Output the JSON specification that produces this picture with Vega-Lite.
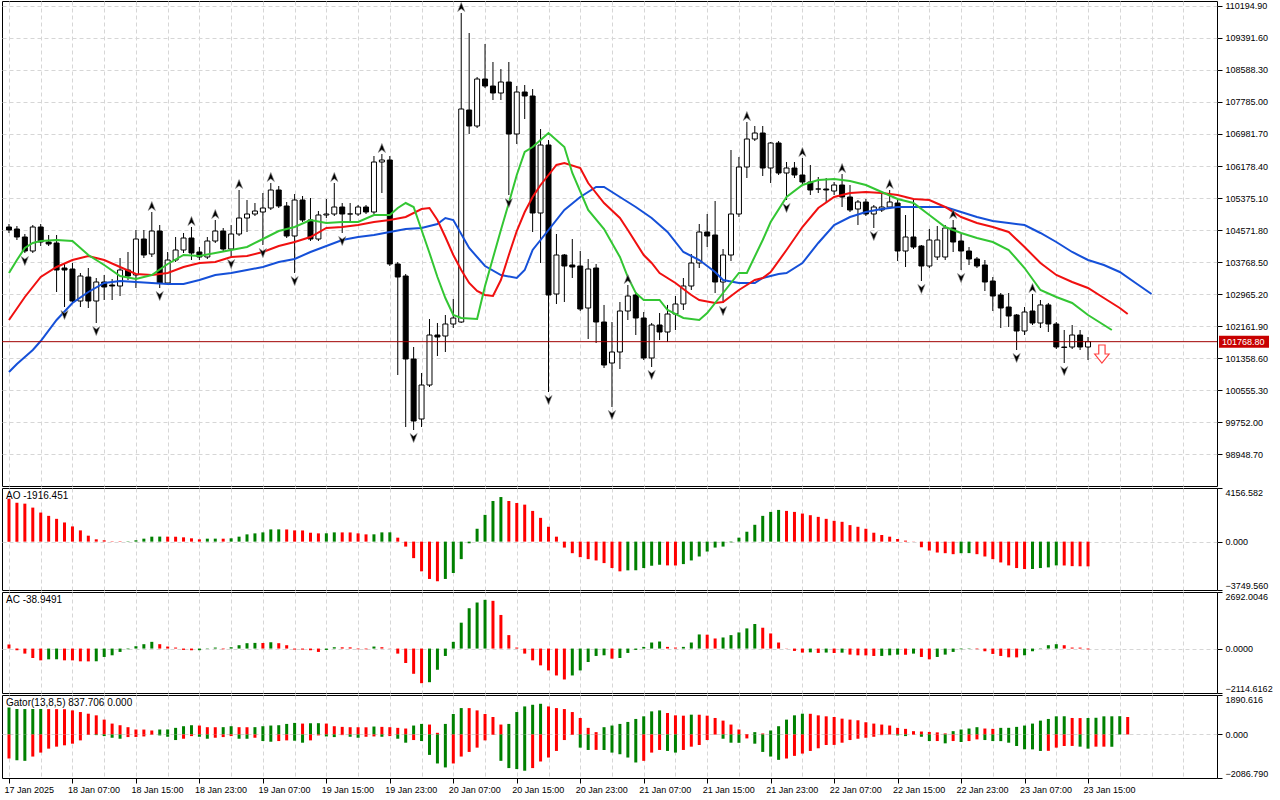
{
  "$schema": "https://vega.github.io/schema/vega-lite/v6.json",
  "background": "#ffffff",
  "padding": {"left": 1, "top": 0, "right": 0, "bottom": 0},
  "spacing": 2,
  "bounds": "flush",
  "resolve": {"scale": {"color": "independent"}},
  "config": {
    "view": {"stroke": "#000000", "strokeWidth": 1},
    "font": "Liberation Sans",
    "axis": {
      "labelFont": "Liberation Sans",
      "labelFontSize": 9,
      "labelColor": "#000000",
      "tickColor": "#000000",
      "gridColor": "#d6d6d6",
      "gridDash": [4, 3],
      "gridWidth": 1,
      "domain": false,
      "labelOverlap": false,
      "title": null
    }
  },
  "datasets": {
    "candles": [
      {"t":"2025-01-17T23:00","o":104647.3,"h":104722.6,"l":104496.7,"c":104572},
      {"t":"2025-01-18T00:00","o":104597.1,"h":104672.4,"l":104321,"c":104396.3},
      {"t":"2025-01-18T01:00","o":104396.3,"h":104471.6,"l":103994.7,"c":104044.9},
      {"t":"2025-01-18T02:00","o":104044.9,"h":104697.5,"l":103994.7,"c":104647.3},
      {"t":"2025-01-18T03:00","o":104647.3,"h":104722.6,"l":104170.4,"c":104270.8},
      {"t":"2025-01-18T04:00","o":104270.8,"h":104446.5,"l":104170.4,"c":104220.6},
      {"t":"2025-01-18T05:00","o":104245.7,"h":104446.5,"l":103015.8,"c":103568},
      {"t":"2025-01-18T06:00","o":103618.2,"h":103743.7,"l":102639.3,"c":103568},
      {"t":"2025-01-18T07:00","o":103593.1,"h":103743.7,"l":102739.7,"c":102789.9},
      {"t":"2025-01-18T08:00","o":102789.9,"h":103492.7,"l":102639.3,"c":103417.4},
      {"t":"2025-01-18T09:00","o":103392.3,"h":103618.2,"l":102614.2,"c":102789.9},
      {"t":"2025-01-18T10:00","o":102789.9,"h":103367.2,"l":102237.7,"c":103266.8},
      {"t":"2025-01-18T11:00","o":103266.8,"h":103442.5,"l":102815,"c":103141.3},
      {"t":"2025-01-18T12:00","o":103191.5,"h":103342.1,"l":102815,"c":103166.4},
      {"t":"2025-01-18T13:00","o":103166.4,"h":103869.2,"l":102915.4,"c":103568},
      {"t":"2025-01-18T14:00","o":103568,"h":104019.8,"l":103317,"c":103417.4},
      {"t":"2025-01-18T15:00","o":103442.5,"h":104572,"l":103116.2,"c":104346.1},
      {"t":"2025-01-18T16:00","o":104346.1,"h":104572,"l":103869.2,"c":103944.5},
      {"t":"2025-01-18T17:00","o":103969.6,"h":105023.8,"l":103894.3,"c":104546.9},
      {"t":"2025-01-18T18:00","o":104546.9,"h":104697.5,"l":103116.2,"c":103241.7},
      {"t":"2025-01-18T19:00","o":103241.7,"h":104019.8,"l":103191.5,"c":103819},
      {"t":"2025-01-18T20:00","o":103819,"h":104396.3,"l":103768.8,"c":104070},
      {"t":"2025-01-18T21:00","o":104070,"h":104496.7,"l":103994.7,"c":104371.2},
      {"t":"2025-01-18T22:00","o":104371.2,"h":104647.3,"l":103819,"c":103994.7},
      {"t":"2025-01-18T23:00","o":104019.8,"h":104145.3,"l":103819,"c":103894.3},
      {"t":"2025-01-19T00:00","o":103894.3,"h":104396.3,"l":103844.1,"c":104295.9},
      {"t":"2025-01-19T01:00","o":104295.9,"h":104823,"l":104245.7,"c":104546.9},
      {"t":"2025-01-19T02:00","o":104546.9,"h":104622.2,"l":104019.8,"c":104095.1},
      {"t":"2025-01-19T03:00","o":104095.1,"h":104697.5,"l":103919.4,"c":104471.6},
      {"t":"2025-01-19T04:00","o":104471.6,"h":105576,"l":104421.4,"c":104873.2},
      {"t":"2025-01-19T05:00","o":104873.2,"h":105325,"l":104521.8,"c":104973.6},
      {"t":"2025-01-19T06:00","o":104973.6,"h":105249.7,"l":104923.4,"c":105048.9},
      {"t":"2025-01-19T07:00","o":105023.8,"h":105500.7,"l":104195.5,"c":105124.2},
      {"t":"2025-01-19T08:00","o":105124.2,"h":105751.7,"l":105074,"c":105576},
      {"t":"2025-01-19T09:00","o":105576,"h":105676.4,"l":105124.2,"c":105174.4},
      {"t":"2025-01-19T10:00","o":105174.4,"h":105274.8,"l":104371.2,"c":104421.4},
      {"t":"2025-01-19T11:00","o":104421.4,"h":105475.6,"l":103492.7,"c":105325},
      {"t":"2025-01-19T12:00","o":105325,"h":105425.4,"l":104772.8,"c":104823},
      {"t":"2025-01-19T13:00","o":104823,"h":105375.2,"l":104295.9,"c":104346.1},
      {"t":"2025-01-19T14:00","o":104346.1,"h":105048.9,"l":104295.9,"c":104948.5},
      {"t":"2025-01-19T15:00","o":104948.5,"h":105350.1,"l":104873.2,"c":104973.6},
      {"t":"2025-01-19T16:00","o":104973.6,"h":105751.7,"l":104923.4,"c":105149.3},
      {"t":"2025-01-19T17:00","o":105149.3,"h":105249.7,"l":104496.7,"c":104973.6},
      {"t":"2025-01-19T18:00","o":104973.6,"h":105249.7,"l":104747.7,"c":104975},
      {"t":"2025-01-19T19:00","o":104973.6,"h":105199.5,"l":104923.4,"c":105149.3},
      {"t":"2025-01-19T20:00","o":105149.3,"h":105199.5,"l":104973.6,"c":105023.8},
      {"t":"2025-01-19T21:00","o":105023.8,"h":106429.4,"l":104973.6,"c":106278.8},
      {"t":"2025-01-19T22:00","o":106278.8,"h":106479.6,"l":105500.7,"c":106329},
      {"t":"2025-01-19T23:00","o":106329,"h":106429.4,"l":103668.4,"c":103718.6},
      {"t":"2025-01-20T00:00","o":103718.6,"h":103768.8,"l":100932.5,"c":103392.3},
      {"t":"2025-01-20T01:00","o":103417.4,"h":103467.6,"l":99627.3,"c":101334.1},
      {"t":"2025-01-20T02:00","o":101334.1,"h":101635.3,"l":99552,"c":99777.9},
      {"t":"2025-01-20T03:00","o":99828.1,"h":100982.7,"l":99627.3,"c":100681.5},
      {"t":"2025-01-20T04:00","o":100681.5,"h":102338.1,"l":100631.3,"c":101936.5},
      {"t":"2025-01-20T05:00","o":101936.5,"h":102237.7,"l":101409.4,"c":101886.3},
      {"t":"2025-01-20T06:00","o":101911.4,"h":102438.5,"l":101509.8,"c":102212.6},
      {"t":"2025-01-20T07:00","o":102212.6,"h":102840.1,"l":102112.2,"c":102363.2},
      {"t":"2025-01-20T08:00","o":102262.8,"h":110018.7,"l":102237.7,"c":107609.1},
      {"t":"2025-01-20T09:00","o":107584,"h":109516.7,"l":106981.6,"c":107182.4},
      {"t":"2025-01-20T10:00","o":107182.4,"h":108412.3,"l":107132.2,"c":108362.1},
      {"t":"2025-01-20T11:00","o":108362.1,"h":109240.6,"l":108136.2,"c":108186.4},
      {"t":"2025-01-20T12:00","o":108186.4,"h":108788.8,"l":107835,"c":108010.7},
      {"t":"2025-01-20T13:00","o":108010.7,"h":108613.1,"l":107835,"c":108286.8},
      {"t":"2025-01-20T14:00","o":108286.8,"h":108788.8,"l":105450.5,"c":106981.6},
      {"t":"2025-01-20T15:00","o":106981.6,"h":108186.4,"l":106730.6,"c":108035.8},
      {"t":"2025-01-20T16:00","o":108035.8,"h":108211.5,"l":107358.1,"c":107935.4},
      {"t":"2025-01-20T17:00","o":107935.4,"h":108110.1,"l":104521.8,"c":104998.7},
      {"t":"2025-01-20T18:00","o":104998.7,"h":107107.1,"l":103743.7,"c":106705.5},
      {"t":"2025-01-20T19:00","o":106705.5,"h":106831,"l":100505.8,"c":102940.5},
      {"t":"2025-01-20T20:00","o":102965.6,"h":104471.6,"l":102714.6,"c":103944.5},
      {"t":"2025-01-20T21:00","o":103944.5,"h":103969.6,"l":102764.8,"c":103668.4},
      {"t":"2025-01-20T22:00","o":103693.5,"h":104346.1,"l":103367.2,"c":103643.3},
      {"t":"2025-01-20T23:00","o":103668.4,"h":104044.9,"l":102538.9,"c":102589.1},
      {"t":"2025-01-21T00:00","o":102614.2,"h":103844.1,"l":101836.1,"c":103593.1},
      {"t":"2025-01-21T01:00","o":103618.2,"h":103718.6,"l":101735.7,"c":102262.8},
      {"t":"2025-01-21T02:00","o":102262.8,"h":102690.5,"l":101108.2,"c":101183.5},
      {"t":"2025-01-21T03:00","o":101233.7,"h":102262.8,"l":100129.3,"c":101509.8},
      {"t":"2025-01-21T04:00","o":101509.8,"h":102764.8,"l":101083.1,"c":102538.9},
      {"t":"2025-01-21T05:00","o":102538.9,"h":103191.5,"l":102313,"c":102915.4},
      {"t":"2025-01-21T06:00","o":102940.5,"h":103015.8,"l":101936.5,"c":102363.2},
      {"t":"2025-01-21T07:00","o":102363.2,"h":102513.8,"l":101309,"c":101359.2},
      {"t":"2025-01-21T08:00","o":101359.2,"h":102237.7,"l":101133.3,"c":102187.5},
      {"t":"2025-01-21T09:00","o":102187.5,"h":102488.7,"l":101811,"c":102011.8},
      {"t":"2025-01-21T10:00","o":102011.8,"h":102690.5,"l":101760.8,"c":102463.6},
      {"t":"2025-01-21T11:00","o":102463.6,"h":102915.4,"l":102062,"c":102714.6},
      {"t":"2025-01-21T12:00","o":102714.6,"h":103367.2,"l":102564,"c":103166.4},
      {"t":"2025-01-21T13:00","o":103166.4,"h":103969.6,"l":103066,"c":103743.7},
      {"t":"2025-01-21T14:00","o":103743.7,"h":104722.6,"l":103618.2,"c":104521.8},
      {"t":"2025-01-21T15:00","o":104521.8,"h":104973.6,"l":104145.3,"c":104421.4},
      {"t":"2025-01-21T16:00","o":104446.5,"h":105299.9,"l":102990.7,"c":103266.8},
      {"t":"2025-01-21T17:00","o":103266.8,"h":104095.1,"l":102739.7,"c":103944.5},
      {"t":"2025-01-21T18:00","o":103944.5,"h":106580,"l":103793.9,"c":104973.6},
      {"t":"2025-01-21T19:00","o":104973.6,"h":106404.3,"l":104898.3,"c":106153.3},
      {"t":"2025-01-21T20:00","o":106153.3,"h":107282.8,"l":105877.2,"c":106856.1},
      {"t":"2025-01-21T21:00","o":106856.1,"h":107182.4,"l":106805.9,"c":107006.7},
      {"t":"2025-01-21T22:00","o":107006.7,"h":107182.4,"l":105927.4,"c":106128.2},
      {"t":"2025-01-21T23:00","o":106128.2,"h":106780.8,"l":105751.7,"c":106755.7},
      {"t":"2025-01-22T00:00","o":106755.7,"h":106805.9,"l":105952.5,"c":106002.7},
      {"t":"2025-01-22T01:00","o":106002.7,"h":106278.8,"l":105325,"c":106128.2},
      {"t":"2025-01-22T02:00","o":106128.2,"h":106278.8,"l":105877.2,"c":105952.5},
      {"t":"2025-01-22T03:00","o":105952.5,"h":106379.2,"l":105726.6,"c":105776.8},
      {"t":"2025-01-22T04:00","o":105776.8,"h":106203.5,"l":105450.5,"c":105576},
      {"t":"2025-01-22T05:00","o":105601.1,"h":105902.3,"l":105500.7,"c":105601},
      {"t":"2025-01-22T06:00","o":105601.1,"h":105877.2,"l":105249.7,"c":105576},
      {"t":"2025-01-22T07:00","o":105550.9,"h":105776.8,"l":105450.5,"c":105701.5},
      {"t":"2025-01-22T08:00","o":105701.5,"h":105977.6,"l":105149.3,"c":105400.3},
      {"t":"2025-01-22T09:00","o":105400.3,"h":105701.5,"l":105023.8,"c":105074},
      {"t":"2025-01-22T10:00","o":105099.1,"h":105325,"l":104697.5,"c":105274.8},
      {"t":"2025-01-22T11:00","o":105274.8,"h":105350.1,"l":104923.4,"c":104973.6},
      {"t":"2025-01-22T12:00","o":104973.6,"h":105199.5,"l":104622.2,"c":105149.3},
      {"t":"2025-01-22T13:00","o":105074,"h":105500.7,"l":105023.8,"c":105149.3},
      {"t":"2025-01-22T14:00","o":105149.3,"h":105576,"l":105099.1,"c":105274.8},
      {"t":"2025-01-22T15:00","o":105249.7,"h":105325,"l":103793.9,"c":104044.9},
      {"t":"2025-01-22T16:00","o":104044.9,"h":104948.5,"l":103643.3,"c":104396.3},
      {"t":"2025-01-22T17:00","o":104396.3,"h":105325,"l":104095.1,"c":104145.3},
      {"t":"2025-01-22T18:00","o":104170.4,"h":104195.5,"l":103291.9,"c":103668.4},
      {"t":"2025-01-22T19:00","o":103668.4,"h":104597.1,"l":103618.2,"c":104321},
      {"t":"2025-01-22T20:00","o":103894.3,"h":104672.4,"l":103819,"c":104321},
      {"t":"2025-01-22T21:00","o":103894.3,"h":104697.5,"l":103819,"c":104622.2},
      {"t":"2025-01-22T22:00","o":104622.2,"h":104823,"l":104019.8,"c":104270.8},
      {"t":"2025-01-22T23:00","o":104295.9,"h":104471.6,"l":103568,"c":104044.9},
      {"t":"2025-01-23T00:00","o":104044.9,"h":104145.3,"l":103693.5,"c":103844.1},
      {"t":"2025-01-23T01:00","o":103844.1,"h":103894.3,"l":103618.2,"c":103668.4},
      {"t":"2025-01-23T02:00","o":103693.5,"h":103819,"l":103040.9,"c":103266.8},
      {"t":"2025-01-23T03:00","o":103291.9,"h":103392.3,"l":102538.9,"c":102915.4},
      {"t":"2025-01-23T04:00","o":102940.5,"h":102990.7,"l":102112.2,"c":102614.2},
      {"t":"2025-01-23T05:00","o":102639.3,"h":102990.7,"l":102137.3,"c":102413.4},
      {"t":"2025-01-23T06:00","o":102438.5,"h":102463.6,"l":101560,"c":102036.9},
      {"t":"2025-01-23T07:00","o":102036.9,"h":102639.3,"l":101936.5,"c":102513.8},
      {"t":"2025-01-23T08:00","o":102538.9,"h":102965.6,"l":102187.5,"c":102237.7},
      {"t":"2025-01-23T09:00","o":102237.7,"h":102815,"l":102112.2,"c":102690.5},
      {"t":"2025-01-23T10:00","o":102690.5,"h":102740.7,"l":102011.8,"c":102212.6},
      {"t":"2025-01-23T11:00","o":102212.6,"h":102262.8,"l":101585.1,"c":101635.3},
      {"t":"2025-01-23T12:00","o":101635.3,"h":102062,"l":101233.7,"c":101622.8},
      {"t":"2025-01-23T13:00","o":101635.3,"h":102187.5,"l":101585.1,"c":101936.5},
      {"t":"2025-01-23T14:00","o":101936.5,"h":102062,"l":101560,"c":101635.3},
      {"t":"2025-01-23T15:00","o":101635.3,"h":101886.3,"l":101309,"c":101768.8}
    ],
    "alligator": [
      {"t":"2025-01-17T23:00","line":"jaw","v":101007.8},
      {"t":"2025-01-18T00:00","line":"jaw","v":101208.6},
      {"t":"2025-01-18T01:00","line":"jaw","v":101383.3},
      {"t":"2025-01-18T02:00","line":"jaw","v":101560},
      {"t":"2025-01-18T03:00","line":"jaw","v":101785.9},
      {"t":"2025-01-18T05:00","line":"jaw","v":102313},
      {"t":"2025-01-18T07:00","line":"jaw","v":102739.7},
      {"t":"2025-01-18T09:00","line":"jaw","v":103015.8},
      {"t":"2025-01-18T11:00","line":"jaw","v":103241.7},
      {"t":"2025-01-18T13:00","line":"jaw","v":103291.9},
      {"t":"2025-01-18T15:00","line":"jaw","v":103266.8},
      {"t":"2025-01-18T17:00","line":"jaw","v":103241.7},
      {"t":"2025-01-18T19:00","line":"jaw","v":103216.6},
      {"t":"2025-01-18T21:00","line":"jaw","v":103216.6},
      {"t":"2025-01-18T23:00","line":"jaw","v":103317},
      {"t":"2025-01-19T01:00","line":"jaw","v":103442.5},
      {"t":"2025-01-19T03:00","line":"jaw","v":103492.7},
      {"t":"2025-01-19T05:00","line":"jaw","v":103568},
      {"t":"2025-01-19T07:00","line":"jaw","v":103643.3},
      {"t":"2025-01-19T09:00","line":"jaw","v":103768.8},
      {"t":"2025-01-19T11:00","line":"jaw","v":103844.1},
      {"t":"2025-01-19T13:00","line":"jaw","v":104019.8},
      {"t":"2025-01-19T15:00","line":"jaw","v":104170.4},
      {"t":"2025-01-19T17:00","line":"jaw","v":104321},
      {"t":"2025-01-19T19:00","line":"jaw","v":104396.3},
      {"t":"2025-01-19T21:00","line":"jaw","v":104446.5},
      {"t":"2025-01-19T23:00","line":"jaw","v":104521.8},
      {"t":"2025-01-20T01:00","line":"jaw","v":104597.1},
      {"t":"2025-01-20T03:00","line":"jaw","v":104622.2},
      {"t":"2025-01-20T05:00","line":"jaw","v":104722.6},
      {"t":"2025-01-20T06:00","line":"jaw","v":104873.2},
      {"t":"2025-01-20T07:00","line":"jaw","v":104823},
      {"t":"2025-01-20T09:00","line":"jaw","v":104120.2},
      {"t":"2025-01-20T11:00","line":"jaw","v":103668.4},
      {"t":"2025-01-20T13:00","line":"jaw","v":103442.5},
      {"t":"2025-01-20T15:00","line":"jaw","v":103367.2},
      {"t":"2025-01-20T16:00","line":"jaw","v":103568},
      {"t":"2025-01-20T17:00","line":"jaw","v":104070},
      {"t":"2025-01-20T19:00","line":"jaw","v":104572},
      {"t":"2025-01-20T21:00","line":"jaw","v":105074},
      {"t":"2025-01-20T23:00","line":"jaw","v":105400.3},
      {"t":"2025-01-21T01:00","line":"jaw","v":105651.3},
      {"t":"2025-01-21T02:00","line":"jaw","v":105651.3},
      {"t":"2025-01-21T04:00","line":"jaw","v":105400.3},
      {"t":"2025-01-21T06:00","line":"jaw","v":105149.3},
      {"t":"2025-01-21T08:00","line":"jaw","v":104873.2},
      {"t":"2025-01-21T10:00","line":"jaw","v":104521.8},
      {"t":"2025-01-21T12:00","line":"jaw","v":104019.8},
      {"t":"2025-01-21T14:00","line":"jaw","v":103819},
      {"t":"2025-01-21T16:00","line":"jaw","v":103517.8},
      {"t":"2025-01-21T17:00","line":"jaw","v":103317},
      {"t":"2025-01-21T19:00","line":"jaw","v":103241.7},
      {"t":"2025-01-21T21:00","line":"jaw","v":103241.7},
      {"t":"2025-01-21T22:00","line":"jaw","v":103367.2},
      {"t":"2025-01-22T00:00","line":"jaw","v":103467.6},
      {"t":"2025-01-22T01:00","line":"jaw","v":103492.7},
      {"t":"2025-01-22T03:00","line":"jaw","v":103743.7},
      {"t":"2025-01-22T05:00","line":"jaw","v":104245.7},
      {"t":"2025-01-22T07:00","line":"jaw","v":104697.5},
      {"t":"2025-01-22T09:00","line":"jaw","v":104898.3},
      {"t":"2025-01-22T11:00","line":"jaw","v":105023.8},
      {"t":"2025-01-22T13:00","line":"jaw","v":105099.1},
      {"t":"2025-01-22T15:00","line":"jaw","v":105149.3},
      {"t":"2025-01-22T17:00","line":"jaw","v":105149.3},
      {"t":"2025-01-22T19:00","line":"jaw","v":105149.3},
      {"t":"2025-01-22T21:00","line":"jaw","v":105149.3},
      {"t":"2025-01-22T23:00","line":"jaw","v":105023.8},
      {"t":"2025-01-23T01:00","line":"jaw","v":104898.3},
      {"t":"2025-01-23T03:00","line":"jaw","v":104797.9},
      {"t":"2025-01-23T05:00","line":"jaw","v":104747.7},
      {"t":"2025-01-23T07:00","line":"jaw","v":104697.5},
      {"t":"2025-01-23T09:00","line":"jaw","v":104496.7},
      {"t":"2025-01-23T11:00","line":"jaw","v":104270.8},
      {"t":"2025-01-23T13:00","line":"jaw","v":104019.8},
      {"t":"2025-01-23T15:00","line":"jaw","v":103819},
      {"t":"2025-01-23T17:00","line":"jaw","v":103693.5},
      {"t":"2025-01-23T19:00","line":"jaw","v":103517.8},
      {"t":"2025-01-23T21:00","line":"jaw","v":103241.7},
      {"t":"2025-01-23T23:00","line":"jaw","v":102965.6},
      {"t":"2025-01-17T23:00","line":"teeth","v":102313},
      {"t":"2025-01-18T01:00","line":"teeth","v":102890.3},
      {"t":"2025-01-18T03:00","line":"teeth","v":103392.3},
      {"t":"2025-01-18T05:00","line":"teeth","v":103643.3},
      {"t":"2025-01-18T07:00","line":"teeth","v":103819},
      {"t":"2025-01-18T09:00","line":"teeth","v":103919.4},
      {"t":"2025-01-18T11:00","line":"teeth","v":103819},
      {"t":"2025-01-18T13:00","line":"teeth","v":103643.3},
      {"t":"2025-01-18T15:00","line":"teeth","v":103467.6},
      {"t":"2025-01-18T17:00","line":"teeth","v":103442.5},
      {"t":"2025-01-18T19:00","line":"teeth","v":103492.7},
      {"t":"2025-01-18T21:00","line":"teeth","v":103643.3},
      {"t":"2025-01-18T23:00","line":"teeth","v":103743.7},
      {"t":"2025-01-19T01:00","line":"teeth","v":103768.8},
      {"t":"2025-01-19T03:00","line":"teeth","v":103894.3},
      {"t":"2025-01-19T05:00","line":"teeth","v":103919.4},
      {"t":"2025-01-19T07:00","line":"teeth","v":104019.8},
      {"t":"2025-01-19T09:00","line":"teeth","v":104170.4},
      {"t":"2025-01-19T11:00","line":"teeth","v":104270.8},
      {"t":"2025-01-19T13:00","line":"teeth","v":104396.3},
      {"t":"2025-01-19T15:00","line":"teeth","v":104622.2},
      {"t":"2025-01-19T17:00","line":"teeth","v":104647.3},
      {"t":"2025-01-19T19:00","line":"teeth","v":104697.5},
      {"t":"2025-01-19T21:00","line":"teeth","v":104772.8},
      {"t":"2025-01-19T23:00","line":"teeth","v":104823},
      {"t":"2025-01-20T01:00","line":"teeth","v":104898.3},
      {"t":"2025-01-20T03:00","line":"teeth","v":105099.1},
      {"t":"2025-01-20T04:00","line":"teeth","v":105124.2},
      {"t":"2025-01-20T05:00","line":"teeth","v":104823},
      {"t":"2025-01-20T06:00","line":"teeth","v":104396.3},
      {"t":"2025-01-20T07:00","line":"teeth","v":103944.5},
      {"t":"2025-01-20T08:00","line":"teeth","v":103568},
      {"t":"2025-01-20T09:00","line":"teeth","v":103241.7},
      {"t":"2025-01-20T10:00","line":"teeth","v":103040.9},
      {"t":"2025-01-20T11:00","line":"teeth","v":102940.5},
      {"t":"2025-01-20T12:00","line":"teeth","v":102915.4},
      {"t":"2025-01-20T13:00","line":"teeth","v":103317},
      {"t":"2025-01-20T14:00","line":"teeth","v":103944.5},
      {"t":"2025-01-20T15:00","line":"teeth","v":104546.9},
      {"t":"2025-01-20T16:00","line":"teeth","v":105023.8},
      {"t":"2025-01-20T17:00","line":"teeth","v":105400.3},
      {"t":"2025-01-20T18:00","line":"teeth","v":105701.5},
      {"t":"2025-01-20T19:00","line":"teeth","v":105952.5},
      {"t":"2025-01-20T20:00","line":"teeth","v":106203.5},
      {"t":"2025-01-20T21:00","line":"teeth","v":106253.7},
      {"t":"2025-01-20T23:00","line":"teeth","v":106128.2},
      {"t":"2025-01-21T00:00","line":"teeth","v":105751.7},
      {"t":"2025-01-21T02:00","line":"teeth","v":105249.7},
      {"t":"2025-01-21T04:00","line":"teeth","v":104873.2},
      {"t":"2025-01-21T05:00","line":"teeth","v":104572},
      {"t":"2025-01-21T07:00","line":"teeth","v":103944.5},
      {"t":"2025-01-21T08:00","line":"teeth","v":103743.7},
      {"t":"2025-01-21T09:00","line":"teeth","v":103492.7},
      {"t":"2025-01-21T11:00","line":"teeth","v":103241.7},
      {"t":"2025-01-21T13:00","line":"teeth","v":102940.5},
      {"t":"2025-01-21T14:00","line":"teeth","v":102815},
      {"t":"2025-01-21T16:00","line":"teeth","v":102739.7},
      {"t":"2025-01-21T17:00","line":"teeth","v":102764.8},
      {"t":"2025-01-21T19:00","line":"teeth","v":103066},
      {"t":"2025-01-21T20:00","line":"teeth","v":103191.5},
      {"t":"2025-01-21T21:00","line":"teeth","v":103317},
      {"t":"2025-01-21T22:00","line":"teeth","v":103367.2},
      {"t":"2025-01-21T23:00","line":"teeth","v":103517.8},
      {"t":"2025-01-22T01:00","line":"teeth","v":104070},
      {"t":"2025-01-22T03:00","line":"teeth","v":104647.3},
      {"t":"2025-01-22T05:00","line":"teeth","v":105124.2},
      {"t":"2025-01-22T07:00","line":"teeth","v":105400.3},
      {"t":"2025-01-22T09:00","line":"teeth","v":105500.7},
      {"t":"2025-01-22T11:00","line":"teeth","v":105525.8},
      {"t":"2025-01-22T13:00","line":"teeth","v":105500.7},
      {"t":"2025-01-22T15:00","line":"teeth","v":105450.5},
      {"t":"2025-01-22T17:00","line":"teeth","v":105350.1},
      {"t":"2025-01-22T19:00","line":"teeth","v":105325},
      {"t":"2025-01-22T21:00","line":"teeth","v":105149.3},
      {"t":"2025-01-22T23:00","line":"teeth","v":104898.3},
      {"t":"2025-01-23T01:00","line":"teeth","v":104747.7},
      {"t":"2025-01-23T03:00","line":"teeth","v":104647.3},
      {"t":"2025-01-23T05:00","line":"teeth","v":104521.8},
      {"t":"2025-01-23T07:00","line":"teeth","v":104145.3},
      {"t":"2025-01-23T09:00","line":"teeth","v":103743.7},
      {"t":"2025-01-23T11:00","line":"teeth","v":103442.5},
      {"t":"2025-01-23T13:00","line":"teeth","v":103266.8},
      {"t":"2025-01-23T15:00","line":"teeth","v":103116.2},
      {"t":"2025-01-23T17:00","line":"teeth","v":102865.2},
      {"t":"2025-01-23T19:00","line":"teeth","v":102614.2},
      {"t":"2025-01-23T20:00","line":"teeth","v":102463.6},
      {"t":"2025-01-17T23:00","line":"lips","v":103492.7},
      {"t":"2025-01-18T00:00","line":"lips","v":103819},
      {"t":"2025-01-18T01:00","line":"lips","v":104120.2},
      {"t":"2025-01-18T02:00","line":"lips","v":104245.7},
      {"t":"2025-01-18T03:00","line":"lips","v":104295.9},
      {"t":"2025-01-18T05:00","line":"lips","v":104321},
      {"t":"2025-01-18T07:00","line":"lips","v":104295.9},
      {"t":"2025-01-18T09:00","line":"lips","v":103944.5},
      {"t":"2025-01-18T11:00","line":"lips","v":103693.5},
      {"t":"2025-01-18T13:00","line":"lips","v":103417.4},
      {"t":"2025-01-18T15:00","line":"lips","v":103342.1},
      {"t":"2025-01-18T17:00","line":"lips","v":103442.5},
      {"t":"2025-01-18T19:00","line":"lips","v":103718.6},
      {"t":"2025-01-18T21:00","line":"lips","v":103944.5},
      {"t":"2025-01-18T23:00","line":"lips","v":103919.4},
      {"t":"2025-01-19T01:00","line":"lips","v":103994.7},
      {"t":"2025-01-19T03:00","line":"lips","v":104070},
      {"t":"2025-01-19T05:00","line":"lips","v":104145.3},
      {"t":"2025-01-19T07:00","line":"lips","v":104346.1},
      {"t":"2025-01-19T09:00","line":"lips","v":104546.9},
      {"t":"2025-01-19T11:00","line":"lips","v":104647.3},
      {"t":"2025-01-19T13:00","line":"lips","v":104823},
      {"t":"2025-01-19T15:00","line":"lips","v":104747.7},
      {"t":"2025-01-19T17:00","line":"lips","v":104772.8},
      {"t":"2025-01-19T19:00","line":"lips","v":104772.8},
      {"t":"2025-01-19T21:00","line":"lips","v":104948.5},
      {"t":"2025-01-19T23:00","line":"lips","v":104948.5},
      {"t":"2025-01-20T00:00","line":"lips","v":105124.2},
      {"t":"2025-01-20T01:00","line":"lips","v":105249.7},
      {"t":"2025-01-20T02:00","line":"lips","v":105149.3},
      {"t":"2025-01-20T03:00","line":"lips","v":104572},
      {"t":"2025-01-20T04:00","line":"lips","v":103994.7},
      {"t":"2025-01-20T05:00","line":"lips","v":103392.3},
      {"t":"2025-01-20T06:00","line":"lips","v":102865.2},
      {"t":"2025-01-20T07:00","line":"lips","v":102438.5},
      {"t":"2025-01-20T08:00","line":"lips","v":102363.2},
      {"t":"2025-01-20T10:00","line":"lips","v":102338.1},
      {"t":"2025-01-20T11:00","line":"lips","v":103166.4},
      {"t":"2025-01-20T12:00","line":"lips","v":103869.2},
      {"t":"2025-01-20T13:00","line":"lips","v":104572},
      {"t":"2025-01-20T14:00","line":"lips","v":105249.7},
      {"t":"2025-01-20T15:00","line":"lips","v":105952.5},
      {"t":"2025-01-20T16:00","line":"lips","v":106529.8},
      {"t":"2025-01-20T17:00","line":"lips","v":106655.3},
      {"t":"2025-01-20T18:00","line":"lips","v":106831},
      {"t":"2025-01-20T19:00","line":"lips","v":107006.7},
      {"t":"2025-01-20T21:00","line":"lips","v":106655.3},
      {"t":"2025-01-20T22:00","line":"lips","v":106002.7},
      {"t":"2025-01-21T00:00","line":"lips","v":105074},
      {"t":"2025-01-21T02:00","line":"lips","v":104597.1},
      {"t":"2025-01-21T04:00","line":"lips","v":103894.3},
      {"t":"2025-01-21T05:00","line":"lips","v":103392.3},
      {"t":"2025-01-21T06:00","line":"lips","v":102990.7},
      {"t":"2025-01-21T07:00","line":"lips","v":102815},
      {"t":"2025-01-21T09:00","line":"lips","v":102815},
      {"t":"2025-01-21T10:00","line":"lips","v":102564},
      {"t":"2025-01-21T12:00","line":"lips","v":102363.2},
      {"t":"2025-01-21T14:00","line":"lips","v":102313},
      {"t":"2025-01-21T15:00","line":"lips","v":102488.7},
      {"t":"2025-01-21T17:00","line":"lips","v":102990.7},
      {"t":"2025-01-21T19:00","line":"lips","v":103492.7},
      {"t":"2025-01-21T20:00","line":"lips","v":103492.7},
      {"t":"2025-01-21T22:00","line":"lips","v":104321},
      {"t":"2025-01-21T23:00","line":"lips","v":104773},
      {"t":"2025-01-22T01:00","line":"lips","v":105400.3},
      {"t":"2025-01-22T03:00","line":"lips","v":105701.5},
      {"t":"2025-01-22T05:00","line":"lips","v":105827},
      {"t":"2025-01-22T07:00","line":"lips","v":105852.1},
      {"t":"2025-01-22T09:00","line":"lips","v":105801.9},
      {"t":"2025-01-22T11:00","line":"lips","v":105701.5},
      {"t":"2025-01-22T13:00","line":"lips","v":105525.8},
      {"t":"2025-01-22T15:00","line":"lips","v":105350.1},
      {"t":"2025-01-22T17:00","line":"lips","v":105249.7},
      {"t":"2025-01-22T19:00","line":"lips","v":104948.5},
      {"t":"2025-01-22T21:00","line":"lips","v":104647.3},
      {"t":"2025-01-22T23:00","line":"lips","v":104496.7},
      {"t":"2025-01-23T01:00","line":"lips","v":104371.2},
      {"t":"2025-01-23T03:00","line":"lips","v":104270.8},
      {"t":"2025-01-23T05:00","line":"lips","v":104070},
      {"t":"2025-01-23T07:00","line":"lips","v":103618.2},
      {"t":"2025-01-23T09:00","line":"lips","v":103066},
      {"t":"2025-01-23T11:00","line":"lips","v":102890.3},
      {"t":"2025-01-23T13:00","line":"lips","v":102739.7},
      {"t":"2025-01-23T15:00","line":"lips","v":102438.5},
      {"t":"2025-01-23T17:00","line":"lips","v":102187.5},
      {"t":"2025-01-23T18:00","line":"lips","v":102062}
    ],
    "fractals": [
      {"t":"2025-01-18T17:00","p":105023.8,"kind":"up"},
      {"t":"2025-01-18T22:00","p":104647.3,"kind":"up"},
      {"t":"2025-01-19T01:00","p":104823,"kind":"up"},
      {"t":"2025-01-19T04:00","p":105576,"kind":"up"},
      {"t":"2025-01-19T08:00","p":105751.7,"kind":"up"},
      {"t":"2025-01-19T16:00","p":105751.7,"kind":"up"},
      {"t":"2025-01-19T22:00","p":106479.6,"kind":"up"},
      {"t":"2025-01-20T08:00","p":110018.7,"kind":"up"},
      {"t":"2025-01-21T05:00","p":103191.5,"kind":"up"},
      {"t":"2025-01-21T20:00","p":107282.8,"kind":"up"},
      {"t":"2025-01-22T03:00","p":106379.2,"kind":"up"},
      {"t":"2025-01-22T08:00","p":105977.6,"kind":"up"},
      {"t":"2025-01-22T14:00","p":105576,"kind":"up"},
      {"t":"2025-01-22T22:00","p":104823,"kind":"up"},
      {"t":"2025-01-23T08:00","p":102965.6,"kind":"up"},
      {"t":"2025-01-18T01:00","p":103994.7,"kind":"down"},
      {"t":"2025-01-18T06:00","p":102639.3,"kind":"down"},
      {"t":"2025-01-18T10:00","p":102237.7,"kind":"down"},
      {"t":"2025-01-18T18:00","p":103116.2,"kind":"down"},
      {"t":"2025-01-19T03:00","p":103919.4,"kind":"down"},
      {"t":"2025-01-19T07:00","p":104195.5,"kind":"down"},
      {"t":"2025-01-19T11:00","p":103492.7,"kind":"down"},
      {"t":"2025-01-19T17:00","p":104496.7,"kind":"down"},
      {"t":"2025-01-20T02:00","p":99552,"kind":"down"},
      {"t":"2025-01-20T14:00","p":105450.5,"kind":"down"},
      {"t":"2025-01-20T19:00","p":100505.8,"kind":"down"},
      {"t":"2025-01-21T03:00","p":100129.3,"kind":"down"},
      {"t":"2025-01-21T08:00","p":101133.3,"kind":"down"},
      {"t":"2025-01-21T17:00","p":102739.7,"kind":"down"},
      {"t":"2025-01-22T01:00","p":105325,"kind":"down"},
      {"t":"2025-01-22T12:00","p":104622.2,"kind":"down"},
      {"t":"2025-01-22T18:00","p":103291.9,"kind":"down"},
      {"t":"2025-01-22T23:00","p":103568,"kind":"down"},
      {"t":"2025-01-23T06:00","p":101560,"kind":"down"},
      {"t":"2025-01-23T12:00","p":101233.7,"kind":"down"}
    ],
    "last": [{"price": 101768.8}],
    "signal": [{"t":"2025-01-23T16:45","p":101459.6}],
    "ao": [
      {"t":"2025-01-17T23:00","v":3328,"d":"dn"},
      {"t":"2025-01-18T00:00","v":3021,"d":"dn"},
      {"t":"2025-01-18T01:00","v":2944,"d":"dn"},
      {"t":"2025-01-18T02:00","v":2637,"d":"dn"},
      {"t":"2025-01-18T03:00","v":2253,"d":"dn"},
      {"t":"2025-01-18T04:00","v":1997,"d":"dn"},
      {"t":"2025-01-18T05:00","v":1766,"d":"dn"},
      {"t":"2025-01-18T06:00","v":1485,"d":"dn"},
      {"t":"2025-01-18T07:00","v":1178,"d":"dn"},
      {"t":"2025-01-18T08:00","v":870,"d":"dn"},
      {"t":"2025-01-18T09:00","v":461,"d":"dn"},
      {"t":"2025-01-18T10:00","v":179,"d":"dn"},
      {"t":"2025-01-18T11:00","v":102,"d":"dn"},
      {"t":"2025-01-18T12:00","v":-26,"d":"dn"},
      {"t":"2025-01-18T13:00","v":-30,"d":"dn"},
      {"t":"2025-01-18T14:00","v":26,"d":"up"},
      {"t":"2025-01-18T15:00","v":102,"d":"up"},
      {"t":"2025-01-18T16:00","v":230,"d":"up"},
      {"t":"2025-01-18T17:00","v":384,"d":"up"},
      {"t":"2025-01-18T18:00","v":390,"d":"up"},
      {"t":"2025-01-18T19:00","v":386,"d":"dn"},
      {"t":"2025-01-18T20:00","v":380,"d":"dn"},
      {"t":"2025-01-18T21:00","v":333,"d":"dn"},
      {"t":"2025-01-18T22:00","v":256,"d":"dn"},
      {"t":"2025-01-18T23:00","v":179,"d":"dn"},
      {"t":"2025-01-19T00:00","v":230,"d":"up"},
      {"t":"2025-01-19T01:00","v":232,"d":"up"},
      {"t":"2025-01-19T02:00","v":228,"d":"dn"},
      {"t":"2025-01-19T03:00","v":256,"d":"up"},
      {"t":"2025-01-19T04:00","v":384,"d":"up"},
      {"t":"2025-01-19T05:00","v":563,"d":"up"},
      {"t":"2025-01-19T06:00","v":640,"d":"up"},
      {"t":"2025-01-19T07:00","v":717,"d":"up"},
      {"t":"2025-01-19T08:00","v":947,"d":"up"},
      {"t":"2025-01-19T09:00","v":950,"d":"up"},
      {"t":"2025-01-19T10:00","v":944,"d":"dn"},
      {"t":"2025-01-19T11:00","v":870,"d":"dn"},
      {"t":"2025-01-19T12:00","v":865,"d":"dn"},
      {"t":"2025-01-19T13:00","v":691,"d":"dn"},
      {"t":"2025-01-19T14:00","v":640,"d":"dn"},
      {"t":"2025-01-19T15:00","v":645,"d":"up"},
      {"t":"2025-01-19T16:00","v":717,"d":"up"},
      {"t":"2025-01-19T17:00","v":715,"d":"dn"},
      {"t":"2025-01-19T18:00","v":712,"d":"dn"},
      {"t":"2025-01-19T19:00","v":640,"d":"dn"},
      {"t":"2025-01-19T20:00","v":563,"d":"dn"},
      {"t":"2025-01-19T21:00","v":566,"d":"up"},
      {"t":"2025-01-19T22:00","v":717,"d":"up"},
      {"t":"2025-01-19T23:00","v":720,"d":"up"},
      {"t":"2025-01-20T00:00","v":307,"d":"dn"},
      {"t":"2025-01-20T01:00","v":-384,"d":"dn"},
      {"t":"2025-01-20T02:00","v":-1280,"d":"dn"},
      {"t":"2025-01-20T03:00","v":-2304,"d":"dn"},
      {"t":"2025-01-20T04:00","v":-2893,"d":"dn"},
      {"t":"2025-01-20T05:00","v":-3072,"d":"dn"},
      {"t":"2025-01-20T06:00","v":-2893,"d":"up"},
      {"t":"2025-01-20T07:00","v":-2432,"d":"up"},
      {"t":"2025-01-20T08:00","v":-1357,"d":"up"},
      {"t":"2025-01-20T09:00","v":-128,"d":"up"},
      {"t":"2025-01-20T10:00","v":998,"d":"up"},
      {"t":"2025-01-20T11:00","v":2074,"d":"up"},
      {"t":"2025-01-20T12:00","v":3149,"d":"up"},
      {"t":"2025-01-20T13:00","v":3456,"d":"up"},
      {"t":"2025-01-20T14:00","v":3149,"d":"dn"},
      {"t":"2025-01-20T15:00","v":2995,"d":"dn"},
      {"t":"2025-01-20T16:00","v":2867,"d":"dn"},
      {"t":"2025-01-20T17:00","v":2381,"d":"dn"},
      {"t":"2025-01-20T18:00","v":1843,"d":"dn"},
      {"t":"2025-01-20T19:00","v":1152,"d":"dn"},
      {"t":"2025-01-20T20:00","v":384,"d":"dn"},
      {"t":"2025-01-20T21:00","v":-461,"d":"dn"},
      {"t":"2025-01-20T22:00","v":-896,"d":"dn"},
      {"t":"2025-01-20T23:00","v":-1203,"d":"dn"},
      {"t":"2025-01-21T00:00","v":-1357,"d":"dn"},
      {"t":"2025-01-21T01:00","v":-1459,"d":"dn"},
      {"t":"2025-01-21T02:00","v":-1664,"d":"dn"},
      {"t":"2025-01-21T03:00","v":-2048,"d":"dn"},
      {"t":"2025-01-21T04:00","v":-2304,"d":"dn"},
      {"t":"2025-01-21T05:00","v":-2227,"d":"up"},
      {"t":"2025-01-21T06:00","v":-2220,"d":"up"},
      {"t":"2025-01-21T07:00","v":-2048,"d":"up"},
      {"t":"2025-01-21T08:00","v":-1869,"d":"up"},
      {"t":"2025-01-21T09:00","v":-1792,"d":"up"},
      {"t":"2025-01-21T10:00","v":-1843,"d":"dn"},
      {"t":"2025-01-21T11:00","v":-1850,"d":"dn"},
      {"t":"2025-01-21T12:00","v":-1741,"d":"up"},
      {"t":"2025-01-21T13:00","v":-1459,"d":"up"},
      {"t":"2025-01-21T14:00","v":-1152,"d":"up"},
      {"t":"2025-01-21T15:00","v":-768,"d":"up"},
      {"t":"2025-01-21T16:00","v":-461,"d":"up"},
      {"t":"2025-01-21T17:00","v":-384,"d":"up"},
      {"t":"2025-01-21T18:00","v":-51,"d":"up"},
      {"t":"2025-01-21T19:00","v":307,"d":"up"},
      {"t":"2025-01-21T20:00","v":768,"d":"up"},
      {"t":"2025-01-21T21:00","v":1306,"d":"up"},
      {"t":"2025-01-21T22:00","v":1997,"d":"up"},
      {"t":"2025-01-21T23:00","v":2304,"d":"up"},
      {"t":"2025-01-22T00:00","v":2458,"d":"up"},
      {"t":"2025-01-22T01:00","v":2381,"d":"dn"},
      {"t":"2025-01-22T02:00","v":2304,"d":"dn"},
      {"t":"2025-01-22T03:00","v":2176,"d":"dn"},
      {"t":"2025-01-22T04:00","v":2048,"d":"dn"},
      {"t":"2025-01-22T05:00","v":1920,"d":"dn"},
      {"t":"2025-01-22T06:00","v":1766,"d":"dn"},
      {"t":"2025-01-22T07:00","v":1613,"d":"dn"},
      {"t":"2025-01-22T08:00","v":1536,"d":"dn"},
      {"t":"2025-01-22T09:00","v":1280,"d":"dn"},
      {"t":"2025-01-22T10:00","v":1152,"d":"dn"},
      {"t":"2025-01-22T11:00","v":998,"d":"dn"},
      {"t":"2025-01-22T12:00","v":691,"d":"dn"},
      {"t":"2025-01-22T13:00","v":512,"d":"dn"},
      {"t":"2025-01-22T14:00","v":384,"d":"dn"},
      {"t":"2025-01-22T15:00","v":205,"d":"dn"},
      {"t":"2025-01-22T16:00","v":77,"d":"dn"},
      {"t":"2025-01-22T17:00","v":13,"d":"dn"},
      {"t":"2025-01-22T18:00","v":-435,"d":"dn"},
      {"t":"2025-01-22T19:00","v":-691,"d":"dn"},
      {"t":"2025-01-22T20:00","v":-845,"d":"dn"},
      {"t":"2025-01-22T21:00","v":-896,"d":"dn"},
      {"t":"2025-01-22T22:00","v":-973,"d":"dn"},
      {"t":"2025-01-22T23:00","v":-896,"d":"up"},
      {"t":"2025-01-23T00:00","v":-890,"d":"up"},
      {"t":"2025-01-23T01:00","v":-973,"d":"dn"},
      {"t":"2025-01-23T02:00","v":-1152,"d":"dn"},
      {"t":"2025-01-23T03:00","v":-1357,"d":"dn"},
      {"t":"2025-01-23T04:00","v":-1613,"d":"dn"},
      {"t":"2025-01-23T05:00","v":-1843,"d":"dn"},
      {"t":"2025-01-23T06:00","v":-2048,"d":"dn"},
      {"t":"2025-01-23T07:00","v":-2125,"d":"dn"},
      {"t":"2025-01-23T08:00","v":-2120,"d":"up"},
      {"t":"2025-01-23T09:00","v":-2048,"d":"up"},
      {"t":"2025-01-23T10:00","v":-1997,"d":"up"},
      {"t":"2025-01-23T11:00","v":-1843,"d":"up"},
      {"t":"2025-01-23T12:00","v":-1850,"d":"dn"},
      {"t":"2025-01-23T13:00","v":-1900,"d":"dn"},
      {"t":"2025-01-23T14:00","v":-1910,"d":"dn"},
      {"t":"2025-01-23T15:00","v":-1916.451,"d":"dn"}
    ],
    "ac": [
      {"t":"2025-01-17T23:00","v":192,"d":"dn"},
      {"t":"2025-01-18T00:00","v":-80,"d":"dn"},
      {"t":"2025-01-18T01:00","v":-240,"d":"dn"},
      {"t":"2025-01-18T02:00","v":-448,"d":"dn"},
      {"t":"2025-01-18T03:00","v":-560,"d":"dn"},
      {"t":"2025-01-18T04:00","v":-512,"d":"up"},
      {"t":"2025-01-18T05:00","v":-510,"d":"up"},
      {"t":"2025-01-18T06:00","v":-560,"d":"dn"},
      {"t":"2025-01-18T07:00","v":-562,"d":"dn"},
      {"t":"2025-01-18T08:00","v":-608,"d":"dn"},
      {"t":"2025-01-18T09:00","v":-610,"d":"dn"},
      {"t":"2025-01-18T10:00","v":-605,"d":"up"},
      {"t":"2025-01-18T11:00","v":-400,"d":"up"},
      {"t":"2025-01-18T12:00","v":-320,"d":"up"},
      {"t":"2025-01-18T13:00","v":-160,"d":"up"},
      {"t":"2025-01-18T14:00","v":-32,"d":"up"},
      {"t":"2025-01-18T15:00","v":112,"d":"up"},
      {"t":"2025-01-18T16:00","v":208,"d":"up"},
      {"t":"2025-01-18T17:00","v":320,"d":"up"},
      {"t":"2025-01-18T18:00","v":208,"d":"dn"},
      {"t":"2025-01-18T19:00","v":96,"d":"dn"},
      {"t":"2025-01-18T20:00","v":48,"d":"dn"},
      {"t":"2025-01-18T21:00","v":-64,"d":"dn"},
      {"t":"2025-01-18T22:00","v":-80,"d":"dn"},
      {"t":"2025-01-18T23:00","v":-78,"d":"up"},
      {"t":"2025-01-19T00:00","v":16,"d":"up"},
      {"t":"2025-01-19T01:00","v":48,"d":"up"},
      {"t":"2025-01-19T02:00","v":-32,"d":"dn"},
      {"t":"2025-01-19T03:00","v":64,"d":"up"},
      {"t":"2025-01-19T04:00","v":160,"d":"up"},
      {"t":"2025-01-19T05:00","v":256,"d":"up"},
      {"t":"2025-01-19T06:00","v":270,"d":"up"},
      {"t":"2025-01-19T07:00","v":265,"d":"dn"},
      {"t":"2025-01-19T08:00","v":300,"d":"up"},
      {"t":"2025-01-19T09:00","v":256,"d":"dn"},
      {"t":"2025-01-19T10:00","v":160,"d":"dn"},
      {"t":"2025-01-19T11:00","v":-48,"d":"dn"},
      {"t":"2025-01-19T12:00","v":-50,"d":"dn"},
      {"t":"2025-01-19T13:00","v":-80,"d":"dn"},
      {"t":"2025-01-19T14:00","v":-160,"d":"dn"},
      {"t":"2025-01-19T15:00","v":-64,"d":"up"},
      {"t":"2025-01-19T16:00","v":64,"d":"up"},
      {"t":"2025-01-19T17:00","v":60,"d":"dn"},
      {"t":"2025-01-19T18:00","v":58,"d":"dn"},
      {"t":"2025-01-19T19:00","v":-32,"d":"dn"},
      {"t":"2025-01-19T20:00","v":-35,"d":"dn"},
      {"t":"2025-01-19T21:00","v":96,"d":"up"},
      {"t":"2025-01-19T22:00","v":64,"d":"dn"},
      {"t":"2025-01-19T23:00","v":10,"d":"dn"},
      {"t":"2025-01-20T00:00","v":-240,"d":"dn"},
      {"t":"2025-01-20T01:00","v":-688,"d":"dn"},
      {"t":"2025-01-20T02:00","v":-1200,"d":"dn"},
      {"t":"2025-01-20T03:00","v":-1648,"d":"dn"},
      {"t":"2025-01-20T04:00","v":-1600,"d":"up"},
      {"t":"2025-01-20T05:00","v":-1008,"d":"up"},
      {"t":"2025-01-20T06:00","v":-352,"d":"up"},
      {"t":"2025-01-20T07:00","v":320,"d":"up"},
      {"t":"2025-01-20T08:00","v":1232,"d":"up"},
      {"t":"2025-01-20T09:00","v":1920,"d":"up"},
      {"t":"2025-01-20T10:00","v":2192,"d":"up"},
      {"t":"2025-01-20T11:00","v":2320,"d":"up"},
      {"t":"2025-01-20T12:00","v":2272,"d":"dn"},
      {"t":"2025-01-20T13:00","v":1600,"d":"dn"},
      {"t":"2025-01-20T14:00","v":640,"d":"dn"},
      {"t":"2025-01-20T15:00","v":48,"d":"dn"},
      {"t":"2025-01-20T16:00","v":-240,"d":"dn"},
      {"t":"2025-01-20T17:00","v":-560,"d":"dn"},
      {"t":"2025-01-20T18:00","v":-800,"d":"dn"},
      {"t":"2025-01-20T19:00","v":-1040,"d":"dn"},
      {"t":"2025-01-20T20:00","v":-1280,"d":"dn"},
      {"t":"2025-01-20T21:00","v":-1472,"d":"dn"},
      {"t":"2025-01-20T22:00","v":-1280,"d":"up"},
      {"t":"2025-01-20T23:00","v":-1040,"d":"up"},
      {"t":"2025-01-21T00:00","v":-640,"d":"up"},
      {"t":"2025-01-21T01:00","v":-352,"d":"up"},
      {"t":"2025-01-21T02:00","v":-320,"d":"up"},
      {"t":"2025-01-21T03:00","v":-480,"d":"dn"},
      {"t":"2025-01-21T04:00","v":-448,"d":"up"},
      {"t":"2025-01-21T05:00","v":-208,"d":"up"},
      {"t":"2025-01-21T06:00","v":-64,"d":"up"},
      {"t":"2025-01-21T07:00","v":80,"d":"up"},
      {"t":"2025-01-21T08:00","v":288,"d":"up"},
      {"t":"2025-01-21T09:00","v":336,"d":"up"},
      {"t":"2025-01-21T10:00","v":80,"d":"dn"},
      {"t":"2025-01-21T11:00","v":48,"d":"dn"},
      {"t":"2025-01-21T12:00","v":80,"d":"up"},
      {"t":"2025-01-21T13:00","v":288,"d":"up"},
      {"t":"2025-01-21T14:00","v":672,"d":"up"},
      {"t":"2025-01-21T15:00","v":660,"d":"dn"},
      {"t":"2025-01-21T16:00","v":480,"d":"dn"},
      {"t":"2025-01-21T17:00","v":528,"d":"up"},
      {"t":"2025-01-21T18:00","v":640,"d":"up"},
      {"t":"2025-01-21T19:00","v":768,"d":"up"},
      {"t":"2025-01-21T20:00","v":960,"d":"up"},
      {"t":"2025-01-21T21:00","v":1168,"d":"up"},
      {"t":"2025-01-21T22:00","v":992,"d":"dn"},
      {"t":"2025-01-21T23:00","v":720,"d":"dn"},
      {"t":"2025-01-22T00:00","v":288,"d":"dn"},
      {"t":"2025-01-22T01:00","v":-10,"d":"dn"},
      {"t":"2025-01-22T02:00","v":-112,"d":"dn"},
      {"t":"2025-01-22T03:00","v":-192,"d":"dn"},
      {"t":"2025-01-22T04:00","v":-180,"d":"up"},
      {"t":"2025-01-22T05:00","v":-208,"d":"dn"},
      {"t":"2025-01-22T06:00","v":-190,"d":"up"},
      {"t":"2025-01-22T07:00","v":-210,"d":"dn"},
      {"t":"2025-01-22T08:00","v":-195,"d":"up"},
      {"t":"2025-01-22T09:00","v":-288,"d":"dn"},
      {"t":"2025-01-22T10:00","v":-320,"d":"dn"},
      {"t":"2025-01-22T11:00","v":-325,"d":"dn"},
      {"t":"2025-01-22T12:00","v":-352,"d":"dn"},
      {"t":"2025-01-22T13:00","v":-350,"d":"up"},
      {"t":"2025-01-22T14:00","v":-320,"d":"up"},
      {"t":"2025-01-22T15:00","v":-290,"d":"up"},
      {"t":"2025-01-22T16:00","v":-295,"d":"dn"},
      {"t":"2025-01-22T17:00","v":-240,"d":"up"},
      {"t":"2025-01-22T18:00","v":-400,"d":"dn"},
      {"t":"2025-01-22T19:00","v":-512,"d":"dn"},
      {"t":"2025-01-22T20:00","v":-400,"d":"up"},
      {"t":"2025-01-22T21:00","v":-288,"d":"up"},
      {"t":"2025-01-22T22:00","v":-160,"d":"up"},
      {"t":"2025-01-22T23:00","v":-32,"d":"up"},
      {"t":"2025-01-23T00:00","v":-16,"d":"up"},
      {"t":"2025-01-23T01:00","v":-30,"d":"dn"},
      {"t":"2025-01-23T02:00","v":-128,"d":"dn"},
      {"t":"2025-01-23T03:00","v":-256,"d":"dn"},
      {"t":"2025-01-23T04:00","v":-352,"d":"dn"},
      {"t":"2025-01-23T05:00","v":-416,"d":"dn"},
      {"t":"2025-01-23T06:00","v":-420,"d":"dn"},
      {"t":"2025-01-23T07:00","v":-320,"d":"up"},
      {"t":"2025-01-23T08:00","v":-128,"d":"up"},
      {"t":"2025-01-23T09:00","v":16,"d":"up"},
      {"t":"2025-01-23T10:00","v":160,"d":"up"},
      {"t":"2025-01-23T11:00","v":208,"d":"up"},
      {"t":"2025-01-23T12:00","v":160,"d":"dn"},
      {"t":"2025-01-23T13:00","v":48,"d":"dn"},
      {"t":"2025-01-23T14:00","v":45,"d":"dn"},
      {"t":"2025-01-23T15:00","v":-38.9491,"d":"dn"}
    ],
    "gator": [
      {"t":"2025-01-17T23:00","v":1296,"d":"up"},{"t":"2025-01-17T23:00","v":-1153,"d":"dn"},
      {"t":"2025-01-18T00:00","v":1217,"d":"up"},{"t":"2025-01-18T00:00","v":-1232,"d":"up"},
      {"t":"2025-01-18T01:00","v":1217,"d":"up"},{"t":"2025-01-18T01:00","v":-1264,"d":"up"},
      {"t":"2025-01-18T02:00","v":1220,"d":"up"},{"t":"2025-01-18T02:00","v":-1059,"d":"dn"},
      {"t":"2025-01-18T03:00","v":1222,"d":"up"},{"t":"2025-01-18T03:00","v":-869,"d":"dn"},
      {"t":"2025-01-18T04:00","v":1215,"d":"dn"},{"t":"2025-01-18T04:00","v":-680,"d":"dn"},
      {"t":"2025-01-18T05:00","v":1213,"d":"dn"},{"t":"2025-01-18T05:00","v":-585,"d":"dn"},
      {"t":"2025-01-18T06:00","v":1210,"d":"dn"},{"t":"2025-01-18T06:00","v":-521,"d":"dn"},
      {"t":"2025-01-18T07:00","v":1153,"d":"dn"},{"t":"2025-01-18T07:00","v":-442,"d":"dn"},
      {"t":"2025-01-18T08:00","v":1074,"d":"dn"},{"t":"2025-01-18T08:00","v":-284,"d":"dn"},
      {"t":"2025-01-18T09:00","v":995,"d":"dn"},{"t":"2025-01-18T09:00","v":-20,"d":"dn"},
      {"t":"2025-01-18T10:00","v":916,"d":"dn"},{"t":"2025-01-18T10:00","v":-32,"d":"up"},
      {"t":"2025-01-18T11:00","v":711,"d":"dn"},{"t":"2025-01-18T11:00","v":-79,"d":"up"},
      {"t":"2025-01-18T12:00","v":521,"d":"dn"},{"t":"2025-01-18T12:00","v":-158,"d":"up"},
      {"t":"2025-01-18T13:00","v":442,"d":"dn"},{"t":"2025-01-18T13:00","v":-205,"d":"up"},
      {"t":"2025-01-18T14:00","v":348,"d":"dn"},{"t":"2025-01-18T14:00","v":-126,"d":"dn"},
      {"t":"2025-01-18T15:00","v":237,"d":"dn"},{"t":"2025-01-18T15:00","v":-120,"d":"dn"},
      {"t":"2025-01-18T16:00","v":235,"d":"dn"},{"t":"2025-01-18T16:00","v":-95,"d":"dn"},
      {"t":"2025-01-18T17:00","v":190,"d":"dn"},{"t":"2025-01-18T17:00","v":-10,"d":"dn"},
      {"t":"2025-01-18T18:00","v":237,"d":"up"},{"t":"2025-01-18T18:00","v":-47,"d":"up"},
      {"t":"2025-01-18T19:00","v":240,"d":"up"},{"t":"2025-01-18T19:00","v":-111,"d":"up"},
      {"t":"2025-01-18T20:00","v":316,"d":"up"},{"t":"2025-01-18T20:00","v":-268,"d":"up"},
      {"t":"2025-01-18T21:00","v":395,"d":"up"},{"t":"2025-01-18T21:00","v":-205,"d":"dn"},
      {"t":"2025-01-18T22:00","v":442,"d":"up"},{"t":"2025-01-18T22:00","v":-79,"d":"dn"},
      {"t":"2025-01-18T23:00","v":427,"d":"dn"},{"t":"2025-01-18T23:00","v":-111,"d":"up"},
      {"t":"2025-01-19T00:00","v":348,"d":"dn"},{"t":"2025-01-19T00:00","v":-205,"d":"up"},
      {"t":"2025-01-19T01:00","v":346,"d":"dn"},{"t":"2025-01-19T01:00","v":-158,"d":"dn"},
      {"t":"2025-01-19T02:00","v":350,"d":"up"},{"t":"2025-01-19T02:00","v":-126,"d":"dn"},
      {"t":"2025-01-19T03:00","v":395,"d":"up"},{"t":"2025-01-19T03:00","v":-79,"d":"dn"},
      {"t":"2025-01-19T04:00","v":348,"d":"dn"},{"t":"2025-01-19T04:00","v":-205,"d":"up"},
      {"t":"2025-01-19T05:00","v":346,"d":"dn"},{"t":"2025-01-19T05:00","v":-206,"d":"up"},
      {"t":"2025-01-19T06:00","v":350,"d":"up"},{"t":"2025-01-19T06:00","v":-158,"d":"dn"},
      {"t":"2025-01-19T07:00","v":395,"d":"up"},{"t":"2025-01-19T07:00","v":-316,"d":"up"},
      {"t":"2025-01-19T08:00","v":427,"d":"up"},{"t":"2025-01-19T08:00","v":-348,"d":"up"},
      {"t":"2025-01-19T09:00","v":442,"d":"up"},{"t":"2025-01-19T09:00","v":-316,"d":"dn"},
      {"t":"2025-01-19T10:00","v":505,"d":"up"},{"t":"2025-01-19T10:00","v":-284,"d":"dn"},
      {"t":"2025-01-19T11:00","v":553,"d":"up"},{"t":"2025-01-19T11:00","v":-300,"d":"up"},
      {"t":"2025-01-19T12:00","v":521,"d":"dn"},{"t":"2025-01-19T12:00","v":-395,"d":"up"},
      {"t":"2025-01-19T13:00","v":537,"d":"up"},{"t":"2025-01-19T13:00","v":-284,"d":"dn"},
      {"t":"2025-01-19T14:00","v":540,"d":"up"},{"t":"2025-01-19T14:00","v":-47,"d":"dn"},
      {"t":"2025-01-19T15:00","v":521,"d":"dn"},{"t":"2025-01-19T15:00","v":-95,"d":"up"},
      {"t":"2025-01-19T16:00","v":395,"d":"dn"},{"t":"2025-01-19T16:00","v":-126,"d":"up"},
      {"t":"2025-01-19T17:00","v":363,"d":"dn"},{"t":"2025-01-19T17:00","v":-32,"d":"dn"},
      {"t":"2025-01-19T18:00","v":348,"d":"dn"},{"t":"2025-01-19T18:00","v":-111,"d":"up"},
      {"t":"2025-01-19T19:00","v":346,"d":"dn"},{"t":"2025-01-19T19:00","v":-158,"d":"up"},
      {"t":"2025-01-19T20:00","v":344,"d":"dn"},{"t":"2025-01-19T20:00","v":-111,"d":"dn"},
      {"t":"2025-01-19T21:00","v":380,"d":"up"},{"t":"2025-01-19T21:00","v":-95,"d":"dn"},
      {"t":"2025-01-19T22:00","v":363,"d":"dn"},{"t":"2025-01-19T22:00","v":-111,"d":"up"},
      {"t":"2025-01-19T23:00","v":348,"d":"dn"},{"t":"2025-01-19T23:00","v":-79,"d":"dn"},
      {"t":"2025-01-20T00:00","v":316,"d":"dn"},{"t":"2025-01-20T00:00","v":-205,"d":"up"},
      {"t":"2025-01-20T01:00","v":284,"d":"dn"},{"t":"2025-01-20T01:00","v":-395,"d":"up"},
      {"t":"2025-01-20T02:00","v":427,"d":"up"},{"t":"2025-01-20T02:00","v":-268,"d":"dn"},
      {"t":"2025-01-20T03:00","v":505,"d":"up"},{"t":"2025-01-20T03:00","v":-316,"d":"up"},
      {"t":"2025-01-20T04:00","v":474,"d":"dn"},{"t":"2025-01-20T04:00","v":-980,"d":"up"},
      {"t":"2025-01-20T05:00","v":79,"d":"dn"},{"t":"2025-01-20T05:00","v":-1390,"d":"up"},
      {"t":"2025-01-20T06:00","v":505,"d":"up"},{"t":"2025-01-20T06:00","v":-1580,"d":"up"},
      {"t":"2025-01-20T07:00","v":980,"d":"up"},{"t":"2025-01-20T07:00","v":-1390,"d":"dn"},
      {"t":"2025-01-20T08:00","v":1264,"d":"up"},{"t":"2025-01-20T08:00","v":-1059,"d":"dn"},
      {"t":"2025-01-20T09:00","v":1262,"d":"dn"},{"t":"2025-01-20T09:00","v":-837,"d":"dn"},
      {"t":"2025-01-20T10:00","v":1153,"d":"dn"},{"t":"2025-01-20T10:00","v":-632,"d":"dn"},
      {"t":"2025-01-20T11:00","v":980,"d":"dn"},{"t":"2025-01-20T11:00","v":-284,"d":"dn"},
      {"t":"2025-01-20T12:00","v":837,"d":"dn"},{"t":"2025-01-20T12:00","v":-20,"d":"dn"},
      {"t":"2025-01-20T13:00","v":474,"d":"dn"},{"t":"2025-01-20T13:00","v":-1264,"d":"up"},
      {"t":"2025-01-20T14:00","v":505,"d":"up"},{"t":"2025-01-20T14:00","v":-1612,"d":"up"},
      {"t":"2025-01-20T15:00","v":1074,"d":"up"},{"t":"2025-01-20T15:00","v":-1659,"d":"up"},
      {"t":"2025-01-20T16:00","v":1343,"d":"up"},{"t":"2025-01-20T16:00","v":-1738,"d":"up"},
      {"t":"2025-01-20T17:00","v":1422,"d":"up"},{"t":"2025-01-20T17:00","v":-1612,"d":"dn"},
      {"t":"2025-01-20T18:00","v":1470,"d":"up"},{"t":"2025-01-20T18:00","v":-1296,"d":"dn"},
      {"t":"2025-01-20T19:00","v":1343,"d":"dn"},{"t":"2025-01-20T19:00","v":-1106,"d":"dn"},
      {"t":"2025-01-20T20:00","v":1264,"d":"dn"},{"t":"2025-01-20T20:00","v":-790,"d":"dn"},
      {"t":"2025-01-20T21:00","v":1217,"d":"dn"},{"t":"2025-01-20T21:00","v":-268,"d":"dn"},
      {"t":"2025-01-20T22:00","v":1074,"d":"dn"},{"t":"2025-01-20T22:00","v":-20,"d":"dn"},
      {"t":"2025-01-20T23:00","v":790,"d":"dn"},{"t":"2025-01-20T23:00","v":-632,"d":"up"},
      {"t":"2025-01-21T00:00","v":316,"d":"dn"},{"t":"2025-01-21T00:00","v":-743,"d":"up"},
      {"t":"2025-01-21T01:00","v":111,"d":"dn"},{"t":"2025-01-21T01:00","v":-740,"d":"dn"},
      {"t":"2025-01-21T02:00","v":348,"d":"up"},{"t":"2025-01-21T02:00","v":-745,"d":"up"},
      {"t":"2025-01-21T03:00","v":427,"d":"up"},{"t":"2025-01-21T03:00","v":-869,"d":"up"},
      {"t":"2025-01-21T04:00","v":505,"d":"up"},{"t":"2025-01-21T04:00","v":-948,"d":"up"},
      {"t":"2025-01-21T05:00","v":600,"d":"up"},{"t":"2025-01-21T05:00","v":-1106,"d":"up"},
      {"t":"2025-01-21T06:00","v":743,"d":"up"},{"t":"2025-01-21T06:00","v":-1343,"d":"up"},
      {"t":"2025-01-21T07:00","v":869,"d":"up"},{"t":"2025-01-21T07:00","v":-1264,"d":"dn"},
      {"t":"2025-01-21T08:00","v":1106,"d":"up"},{"t":"2025-01-21T08:00","v":-869,"d":"dn"},
      {"t":"2025-01-21T09:00","v":1153,"d":"up"},{"t":"2025-01-21T09:00","v":-743,"d":"dn"},
      {"t":"2025-01-21T10:00","v":1027,"d":"dn"},{"t":"2025-01-21T10:00","v":-790,"d":"up"},
      {"t":"2025-01-21T11:00","v":916,"d":"dn"},{"t":"2025-01-21T11:00","v":-869,"d":"up"},
      {"t":"2025-01-21T12:00","v":900,"d":"dn"},{"t":"2025-01-21T12:00","v":-743,"d":"dn"},
      {"t":"2025-01-21T13:00","v":948,"d":"up"},{"t":"2025-01-21T13:00","v":-585,"d":"dn"},
      {"t":"2025-01-21T14:00","v":945,"d":"dn"},{"t":"2025-01-21T14:00","v":-505,"d":"dn"},
      {"t":"2025-01-21T15:00","v":900,"d":"dn"},{"t":"2025-01-21T15:00","v":-268,"d":"dn"},
      {"t":"2025-01-21T16:00","v":790,"d":"dn"},{"t":"2025-01-21T16:00","v":-10,"d":"dn"},
      {"t":"2025-01-21T17:00","v":663,"d":"dn"},{"t":"2025-01-21T17:00","v":-205,"d":"up"},
      {"t":"2025-01-21T18:00","v":474,"d":"dn"},{"t":"2025-01-21T18:00","v":-395,"d":"up"},
      {"t":"2025-01-21T19:00","v":237,"d":"dn"},{"t":"2025-01-21T19:00","v":-400,"d":"up"},
      {"t":"2025-01-21T20:00","v":20,"d":"dn"},{"t":"2025-01-21T20:00","v":-190,"d":"dn"},
      {"t":"2025-01-21T21:00","v":111,"d":"up"},{"t":"2025-01-21T21:00","v":-442,"d":"up"},
      {"t":"2025-01-21T22:00","v":47,"d":"dn"},{"t":"2025-01-21T22:00","v":-837,"d":"up"},
      {"t":"2025-01-21T23:00","v":190,"d":"up"},{"t":"2025-01-21T23:00","v":-1059,"d":"up"},
      {"t":"2025-01-22T00:00","v":395,"d":"up"},{"t":"2025-01-22T00:00","v":-1217,"d":"up"},
      {"t":"2025-01-22T01:00","v":711,"d":"up"},{"t":"2025-01-22T01:00","v":-1153,"d":"dn"},
      {"t":"2025-01-22T02:00","v":916,"d":"up"},{"t":"2025-01-22T02:00","v":-1027,"d":"dn"},
      {"t":"2025-01-22T03:00","v":995,"d":"up"},{"t":"2025-01-22T03:00","v":-916,"d":"dn"},
      {"t":"2025-01-22T04:00","v":990,"d":"dn"},{"t":"2025-01-22T04:00","v":-790,"d":"dn"},
      {"t":"2025-01-22T05:00","v":916,"d":"dn"},{"t":"2025-01-22T05:00","v":-663,"d":"dn"},
      {"t":"2025-01-22T06:00","v":869,"d":"dn"},{"t":"2025-01-22T06:00","v":-505,"d":"dn"},
      {"t":"2025-01-22T07:00","v":837,"d":"dn"},{"t":"2025-01-22T07:00","v":-500,"d":"dn"},
      {"t":"2025-01-22T08:00","v":758,"d":"dn"},{"t":"2025-01-22T08:00","v":-395,"d":"dn"},
      {"t":"2025-01-22T09:00","v":711,"d":"dn"},{"t":"2025-01-22T09:00","v":-268,"d":"dn"},
      {"t":"2025-01-22T10:00","v":679,"d":"dn"},{"t":"2025-01-22T10:00","v":-205,"d":"dn"},
      {"t":"2025-01-22T11:00","v":585,"d":"dn"},{"t":"2025-01-22T11:00","v":-158,"d":"dn"},
      {"t":"2025-01-22T12:00","v":521,"d":"dn"},{"t":"2025-01-22T12:00","v":-111,"d":"dn"},
      {"t":"2025-01-22T13:00","v":474,"d":"dn"},{"t":"2025-01-22T13:00","v":-32,"d":"dn"},
      {"t":"2025-01-22T14:00","v":427,"d":"dn"},{"t":"2025-01-22T14:00","v":-5,"d":"dn"},
      {"t":"2025-01-22T15:00","v":316,"d":"dn"},{"t":"2025-01-22T15:00","v":-47,"d":"up"},
      {"t":"2025-01-22T16:00","v":268,"d":"dn"},{"t":"2025-01-22T16:00","v":-79,"d":"up"},
      {"t":"2025-01-22T17:00","v":158,"d":"dn"},{"t":"2025-01-22T17:00","v":-10,"d":"dn"},
      {"t":"2025-01-22T18:00","v":140,"d":"dn"},{"t":"2025-01-22T18:00","v":-111,"d":"up"},
      {"t":"2025-01-22T19:00","v":120,"d":"dn"},{"t":"2025-01-22T19:00","v":-316,"d":"up"},
      {"t":"2025-01-22T20:00","v":100,"d":"dn"},{"t":"2025-01-22T20:00","v":-316,"d":"dn"},
      {"t":"2025-01-22T21:00","v":50,"d":"dn"},{"t":"2025-01-22T21:00","v":-426,"d":"up"},
      {"t":"2025-01-22T22:00","v":158,"d":"up"},{"t":"2025-01-22T22:00","v":-316,"d":"dn"},
      {"t":"2025-01-22T23:00","v":237,"d":"up"},{"t":"2025-01-22T23:00","v":-363,"d":"up"},
      {"t":"2025-01-23T00:00","v":284,"d":"up"},{"t":"2025-01-23T00:00","v":-316,"d":"dn"},
      {"t":"2025-01-23T01:00","v":348,"d":"up"},{"t":"2025-01-23T01:00","v":-237,"d":"dn"},
      {"t":"2025-01-23T02:00","v":284,"d":"dn"},{"t":"2025-01-23T02:00","v":-268,"d":"up"},
      {"t":"2025-01-23T03:00","v":268,"d":"dn"},{"t":"2025-01-23T03:00","v":-316,"d":"up"},
      {"t":"2025-01-23T04:00","v":316,"d":"up"},{"t":"2025-01-23T04:00","v":-320,"d":"up"},
      {"t":"2025-01-23T05:00","v":318,"d":"up"},{"t":"2025-01-23T05:00","v":-395,"d":"up"},
      {"t":"2025-01-23T06:00","v":363,"d":"up"},{"t":"2025-01-23T06:00","v":-553,"d":"up"},
      {"t":"2025-01-23T07:00","v":427,"d":"up"},{"t":"2025-01-23T07:00","v":-711,"d":"up"},
      {"t":"2025-01-23T08:00","v":521,"d":"up"},{"t":"2025-01-23T08:00","v":-715,"d":"up"},
      {"t":"2025-01-23T09:00","v":663,"d":"up"},{"t":"2025-01-23T09:00","v":-790,"d":"up"},
      {"t":"2025-01-23T10:00","v":743,"d":"up"},{"t":"2025-01-23T10:00","v":-785,"d":"dn"},
      {"t":"2025-01-23T11:00","v":869,"d":"up"},{"t":"2025-01-23T11:00","v":-632,"d":"dn"},
      {"t":"2025-01-23T12:00","v":872,"d":"up"},{"t":"2025-01-23T12:00","v":-553,"d":"dn"},
      {"t":"2025-01-23T13:00","v":790,"d":"dn"},{"t":"2025-01-23T13:00","v":-550,"d":"dn"},
      {"t":"2025-01-23T14:00","v":785,"d":"dn"},{"t":"2025-01-23T14:00","v":-585,"d":"up"},
      {"t":"2025-01-23T15:00","v":790,"d":"up"},{"t":"2025-01-23T15:00","v":-680,"d":"up"},
      {"t":"2025-01-23T16:00","v":800,"d":"up"},{"t":"2025-01-23T16:00","v":-585,"d":"dn"},
      {"t":"2025-01-23T17:00","v":869,"d":"up"},{"t":"2025-01-23T17:00","v":-585,"d":"dn"},
      {"t":"2025-01-23T18:00","v":870,"d":"up"},{"t":"2025-01-23T18:00","v":-590,"d":"up"},
      {"t":"2025-01-23T19:00","v":875,"d":"up"},
      {"t":"2025-01-23T20:00","v":837.706,"d":"dn"}
    ]
  },
  "vconcat": [
    {
      "width": 1215,
      "height": 485,
      "layer": [
        {
          "data": {"name": "candles"},
          "mark": {"type": "rule", "color": "#000000", "strokeWidth": 1},
          "encoding": {
            "x": {
              "field": "t", "type": "temporal",
              "scale": {"domain": [{"year":2025,"month":1,"date":17,"hours":22,"minutes":45},{"year":2025,"month":1,"date":24,"hours":6,"minutes":37,"seconds":30}], "nice": false},
              "axis": {"grid": true, "labels": false, "ticks": false, "domain": false, "title": null, "tickCount": 60,
                "values": [{"year":2025,"month":1,"date":17,"hours":23},{"year":2025,"month":1,"date":18,"hours":3},{"year":2025,"month":1,"date":18,"hours":7},{"year":2025,"month":1,"date":18,"hours":11},{"year":2025,"month":1,"date":18,"hours":15},{"year":2025,"month":1,"date":18,"hours":19},{"year":2025,"month":1,"date":18,"hours":23},{"year":2025,"month":1,"date":19,"hours":3},{"year":2025,"month":1,"date":19,"hours":7},{"year":2025,"month":1,"date":19,"hours":11},{"year":2025,"month":1,"date":19,"hours":15},{"year":2025,"month":1,"date":19,"hours":19},{"year":2025,"month":1,"date":19,"hours":23},{"year":2025,"month":1,"date":20,"hours":3},{"year":2025,"month":1,"date":20,"hours":7},{"year":2025,"month":1,"date":20,"hours":11},{"year":2025,"month":1,"date":20,"hours":15},{"year":2025,"month":1,"date":20,"hours":19},{"year":2025,"month":1,"date":20,"hours":23},{"year":2025,"month":1,"date":21,"hours":3},{"year":2025,"month":1,"date":21,"hours":7},{"year":2025,"month":1,"date":21,"hours":11},{"year":2025,"month":1,"date":21,"hours":15},{"year":2025,"month":1,"date":21,"hours":19},{"year":2025,"month":1,"date":21,"hours":23},{"year":2025,"month":1,"date":22,"hours":3},{"year":2025,"month":1,"date":22,"hours":7},{"year":2025,"month":1,"date":22,"hours":11},{"year":2025,"month":1,"date":22,"hours":15},{"year":2025,"month":1,"date":22,"hours":19},{"year":2025,"month":1,"date":22,"hours":23},{"year":2025,"month":1,"date":23,"hours":3},{"year":2025,"month":1,"date":23,"hours":7},{"year":2025,"month":1,"date":23,"hours":11},{"year":2025,"month":1,"date":23,"hours":15},{"year":2025,"month":1,"date":23,"hours":19},{"year":2025,"month":1,"date":23,"hours":23},{"year":2025,"month":1,"date":24,"hours":3}]}
            },
            "y": {
              "field": "l", "type": "quantitative",
              "scale": {"domain": [98146.4, 110319.9], "nice": false, "zero": false},
              "axis": {"orient": "right", "grid": true, "format": ".2f", "tickSize": 5, "labelPadding": 3, "labelOverlap": false, "tickCount": 30, "title": null,
                "values": [110194.9, 109391.6, 108588.3, 107785.0, 106981.7, 106178.4, 105375.1, 104571.8, 103768.5, 102965.2, 102161.9, 101358.6, 100555.3, 99752.0, 98948.7]}
            },
            "y2": {"field": "h"}
          }
        },
        {
          "data": {"name": "candles"},
          "mark": {"type": "bar", "width": 5, "stroke": "#000000", "strokeWidth": 1},
          "encoding": {
            "x": {"field": "t", "type": "temporal"},
            "y": {"field": "o", "type": "quantitative"},
            "y2": {"field": "c"},
            "fill": {"condition": {"test": "datum.c < datum.o", "value": "#000000"}, "value": "#ffffff"}
          }
        },
        {
          "data": {"name": "alligator"},
          "mark": {"type": "line", "strokeWidth": 2},
          "encoding": {
            "x": {"field": "t", "type": "temporal"},
            "y": {"field": "v", "type": "quantitative"},
            "color": {"field": "line", "type": "nominal", "scale": {"domain": ["jaw", "teeth", "lips"], "range": ["#1550d8", "#f01010", "#33c633"]}, "legend": null}
          }
        },
        {
          "data": {"name": "fractals"},
          "transform": [{"filter": "datum.kind == 'up'"}],
          "mark": {"type": "point", "shape": "M0,-1L0.8,1L0,0.4L-0.8,1Z", "filled": true, "fill": "#000000", "stroke": "#8a8a8a", "strokeWidth": 0.6, "size": 81, "opacity": 1, "yOffset": -6},
          "encoding": {
            "x": {"field": "t", "type": "temporal"},
            "y": {"field": "p", "type": "quantitative"}
          }
        },
        {
          "data": {"name": "fractals"},
          "transform": [{"filter": "datum.kind == 'down'"}],
          "mark": {"type": "point", "shape": "M0,1L0.8,-1L0,-0.4L-0.8,-1Z", "filled": true, "fill": "#000000", "stroke": "#8a8a8a", "strokeWidth": 0.6, "size": 81, "opacity": 1, "yOffset": 8},
          "encoding": {
            "x": {"field": "t", "type": "temporal"},
            "y": {"field": "p", "type": "quantitative"}
          }
        },
        {
          "data": {"name": "last"},
          "mark": {"type": "rule", "color": "#a00000", "strokeWidth": 1},
          "encoding": {
            "y": {"field": "price", "type": "quantitative"}
          }
        },
        {
          "data": {"name": "signal"},
          "mark": {"type": "point", "shape": "M-0.35,-1L0.35,-1L0.35,0L0.8,0L0,1L-0.8,0L-0.35,0Z", "filled": true, "fill": "#ffffff", "stroke": "#ff4040", "strokeWidth": 1.2, "size": 324, "opacity": 1},
          "encoding": {
            "x": {"field": "t", "type": "temporal"},
            "y": {"field": "p", "type": "quantitative"}
          }
        },
        {
          "data": {"name": "last"},
          "mark": {"type": "point", "shape": "M-2.5,-0.6L2.5,-0.6L2.5,0.6L-2.5,0.6Z", "filled": true, "color": "#c80000", "size": 400, "opacity": 1, "clip": false},
          "encoding": {
            "x": {"value": {"expr": "width + 27"}},
            "y": {"field": "price", "type": "quantitative"}
          }
        },
        {
          "data": {"name": "last"},
          "mark": {"type": "text", "align": "left", "baseline": "middle", "color": "#ffffff", "font": "Liberation Sans", "fontSize": 9, "clip": false},
          "encoding": {
            "x": {"value": {"expr": "width + 5"}},
            "y": {"field": "price", "type": "quantitative"},
            "text": {"field": "price", "type": "quantitative", "format": ".2f"}
          }
        }
      ]
    },
    {
      "width": 1215,
      "height": 102,
      "title": {"text": "AO -1916.451", "anchor": "start", "frame": "group", "orient": "top", "offset": -13, "dx": 4, "fontSize": 10, "fontWeight": "normal", "font": "Liberation Sans", "color": "#000000"},
      "data": {"name": "ao"},
      "mark": {"type": "bar", "width": 3},
      "encoding": {
        "x": {
          "field": "t", "type": "temporal",
          "scale": {"domain": [{"year":2025,"month":1,"date":17,"hours":22,"minutes":45},{"year":2025,"month":1,"date":24,"hours":6,"minutes":37,"seconds":30}], "nice": false},
          "axis": {"grid": true, "labels": false, "ticks": false, "domain": false, "title": null, "tickCount": 60,
            "values": [{"year":2025,"month":1,"date":17,"hours":23},{"year":2025,"month":1,"date":18,"hours":3},{"year":2025,"month":1,"date":18,"hours":7},{"year":2025,"month":1,"date":18,"hours":11},{"year":2025,"month":1,"date":18,"hours":15},{"year":2025,"month":1,"date":18,"hours":19},{"year":2025,"month":1,"date":18,"hours":23},{"year":2025,"month":1,"date":19,"hours":3},{"year":2025,"month":1,"date":19,"hours":7},{"year":2025,"month":1,"date":19,"hours":11},{"year":2025,"month":1,"date":19,"hours":15},{"year":2025,"month":1,"date":19,"hours":19},{"year":2025,"month":1,"date":19,"hours":23},{"year":2025,"month":1,"date":20,"hours":3},{"year":2025,"month":1,"date":20,"hours":7},{"year":2025,"month":1,"date":20,"hours":11},{"year":2025,"month":1,"date":20,"hours":15},{"year":2025,"month":1,"date":20,"hours":19},{"year":2025,"month":1,"date":20,"hours":23},{"year":2025,"month":1,"date":21,"hours":3},{"year":2025,"month":1,"date":21,"hours":7},{"year":2025,"month":1,"date":21,"hours":11},{"year":2025,"month":1,"date":21,"hours":15},{"year":2025,"month":1,"date":21,"hours":19},{"year":2025,"month":1,"date":21,"hours":23},{"year":2025,"month":1,"date":22,"hours":3},{"year":2025,"month":1,"date":22,"hours":7},{"year":2025,"month":1,"date":22,"hours":11},{"year":2025,"month":1,"date":22,"hours":15},{"year":2025,"month":1,"date":22,"hours":19},{"year":2025,"month":1,"date":22,"hours":23},{"year":2025,"month":1,"date":23,"hours":3},{"year":2025,"month":1,"date":23,"hours":7},{"year":2025,"month":1,"date":23,"hours":11},{"year":2025,"month":1,"date":23,"hours":15},{"year":2025,"month":1,"date":23,"hours":19},{"year":2025,"month":1,"date":23,"hours":23},{"year":2025,"month":1,"date":24,"hours":3}]}
        },
        "y": {
          "field": "v", "type": "quantitative",
          "scale": {"domain": [-3749.56, 4156.582], "nice": false, "zero": false},
          "axis": {"orient": "right", "values": [-3749.56, 0, 4156.582], "tickCount": 10, "format": ".3f", "labelFlush": true, "tickSize": 5, "labelPadding": 3, "title": null, "grid": true,
            "gridOpacity": {"condition": {"test": "datum.value == 0", "value": 1}, "value": 0}}
        },
        "y2": {"datum": 0},
        "color": {"field": "d", "type": "nominal", "scale": {"domain": ["up", "dn"], "range": ["#008000", "#ff0000"]}, "legend": null}
      }
    },
    {
      "width": 1215,
      "height": 101,
      "title": {"text": "AC -38.9491", "anchor": "start", "frame": "group", "orient": "top", "offset": -13, "dx": 4, "fontSize": 10, "fontWeight": "normal", "font": "Liberation Sans", "color": "#000000"},
      "data": {"name": "ac"},
      "mark": {"type": "bar", "width": 3},
      "encoding": {
        "x": {
          "field": "t", "type": "temporal",
          "scale": {"domain": [{"year":2025,"month":1,"date":17,"hours":22,"minutes":45},{"year":2025,"month":1,"date":24,"hours":6,"minutes":37,"seconds":30}], "nice": false},
          "axis": {"grid": true, "labels": false, "ticks": false, "domain": false, "title": null, "tickCount": 60,
            "values": [{"year":2025,"month":1,"date":17,"hours":23},{"year":2025,"month":1,"date":18,"hours":3},{"year":2025,"month":1,"date":18,"hours":7},{"year":2025,"month":1,"date":18,"hours":11},{"year":2025,"month":1,"date":18,"hours":15},{"year":2025,"month":1,"date":18,"hours":19},{"year":2025,"month":1,"date":18,"hours":23},{"year":2025,"month":1,"date":19,"hours":3},{"year":2025,"month":1,"date":19,"hours":7},{"year":2025,"month":1,"date":19,"hours":11},{"year":2025,"month":1,"date":19,"hours":15},{"year":2025,"month":1,"date":19,"hours":19},{"year":2025,"month":1,"date":19,"hours":23},{"year":2025,"month":1,"date":20,"hours":3},{"year":2025,"month":1,"date":20,"hours":7},{"year":2025,"month":1,"date":20,"hours":11},{"year":2025,"month":1,"date":20,"hours":15},{"year":2025,"month":1,"date":20,"hours":19},{"year":2025,"month":1,"date":20,"hours":23},{"year":2025,"month":1,"date":21,"hours":3},{"year":2025,"month":1,"date":21,"hours":7},{"year":2025,"month":1,"date":21,"hours":11},{"year":2025,"month":1,"date":21,"hours":15},{"year":2025,"month":1,"date":21,"hours":19},{"year":2025,"month":1,"date":21,"hours":23},{"year":2025,"month":1,"date":22,"hours":3},{"year":2025,"month":1,"date":22,"hours":7},{"year":2025,"month":1,"date":22,"hours":11},{"year":2025,"month":1,"date":22,"hours":15},{"year":2025,"month":1,"date":22,"hours":19},{"year":2025,"month":1,"date":22,"hours":23},{"year":2025,"month":1,"date":23,"hours":3},{"year":2025,"month":1,"date":23,"hours":7},{"year":2025,"month":1,"date":23,"hours":11},{"year":2025,"month":1,"date":23,"hours":15},{"year":2025,"month":1,"date":23,"hours":19},{"year":2025,"month":1,"date":23,"hours":23},{"year":2025,"month":1,"date":24,"hours":3}]}
        },
        "y": {
          "field": "v", "type": "quantitative",
          "scale": {"domain": [-2114.6162, 2692.0046], "nice": false, "zero": false},
          "axis": {"orient": "right", "values": [-2114.6162, 0, 2692.0046], "tickCount": 10, "format": ".4f", "labelFlush": true, "tickSize": 5, "labelPadding": 3, "title": null, "grid": true,
            "gridOpacity": {"condition": {"test": "datum.value == 0", "value": 1}, "value": 0}}
        },
        "y2": {"datum": 0},
        "color": {"field": "d", "type": "nominal", "scale": {"domain": ["up", "dn"], "range": ["#008000", "#ff0000"]}, "legend": null}
      }
    },
    {
      "width": 1215,
      "height": 83,
      "title": {"text": "Gator(13,8,5) 837.706 0.000", "anchor": "start", "frame": "group", "orient": "top", "offset": -13, "dx": 4, "fontSize": 10, "fontWeight": "normal", "font": "Liberation Sans", "color": "#000000"},
      "data": {"name": "gator"},
      "mark": {"type": "bar", "width": 3},
      "encoding": {
        "x": {
          "field": "t", "type": "temporal",
          "scale": {"domain": [{"year":2025,"month":1,"date":17,"hours":22,"minutes":45},{"year":2025,"month":1,"date":24,"hours":6,"minutes":37,"seconds":30}], "nice": false},
          "axis": {"grid": true, "labels": true, "ticks": true, "domain": false, "title": null, "orient": "bottom", "tickCount": 60,
            "tickSize": 5, "labelAlign": "left", "labelBaseline": "top", "labelPadding": 2, "labelOffset": -5, "labelOverlap": false, "labelFlush": false, "labelBound": false,
            "tickOpacity": {"condition": {"test": "hours(datum.value) % 8 == 7 && datum.value <= datetime(2025, 0, 23, 15)", "value": 1}, "value": 0},
            "labelExpr": "hours(datum.value) % 8 != 7 || datum.value > datetime(2025, 0, 23, 15) ? '' : (date(datum.value) == 17 ? '17 Jan 2025' : timeFormat(datum.value, '%d %b %H:%M'))",
            "values": [{"year":2025,"month":1,"date":17,"hours":23},{"year":2025,"month":1,"date":18,"hours":3},{"year":2025,"month":1,"date":18,"hours":7},{"year":2025,"month":1,"date":18,"hours":11},{"year":2025,"month":1,"date":18,"hours":15},{"year":2025,"month":1,"date":18,"hours":19},{"year":2025,"month":1,"date":18,"hours":23},{"year":2025,"month":1,"date":19,"hours":3},{"year":2025,"month":1,"date":19,"hours":7},{"year":2025,"month":1,"date":19,"hours":11},{"year":2025,"month":1,"date":19,"hours":15},{"year":2025,"month":1,"date":19,"hours":19},{"year":2025,"month":1,"date":19,"hours":23},{"year":2025,"month":1,"date":20,"hours":3},{"year":2025,"month":1,"date":20,"hours":7},{"year":2025,"month":1,"date":20,"hours":11},{"year":2025,"month":1,"date":20,"hours":15},{"year":2025,"month":1,"date":20,"hours":19},{"year":2025,"month":1,"date":20,"hours":23},{"year":2025,"month":1,"date":21,"hours":3},{"year":2025,"month":1,"date":21,"hours":7},{"year":2025,"month":1,"date":21,"hours":11},{"year":2025,"month":1,"date":21,"hours":15},{"year":2025,"month":1,"date":21,"hours":19},{"year":2025,"month":1,"date":21,"hours":23},{"year":2025,"month":1,"date":22,"hours":3},{"year":2025,"month":1,"date":22,"hours":7},{"year":2025,"month":1,"date":22,"hours":11},{"year":2025,"month":1,"date":22,"hours":15},{"year":2025,"month":1,"date":22,"hours":19},{"year":2025,"month":1,"date":22,"hours":23},{"year":2025,"month":1,"date":23,"hours":3},{"year":2025,"month":1,"date":23,"hours":7},{"year":2025,"month":1,"date":23,"hours":11},{"year":2025,"month":1,"date":23,"hours":15},{"year":2025,"month":1,"date":23,"hours":19},{"year":2025,"month":1,"date":23,"hours":23},{"year":2025,"month":1,"date":24,"hours":3}]}
        },
        "y": {
          "field": "v", "type": "quantitative",
          "scale": {"domain": [-2086.79, 1890.616], "nice": false, "zero": false},
          "axis": {"orient": "right", "values": [-2086.79, 0, 1890.616], "tickCount": 10, "format": ".3f", "labelFlush": true, "tickSize": 5, "labelPadding": 3, "title": null, "grid": true,
            "gridOpacity": {"condition": {"test": "datum.value == 0", "value": 1}, "value": 0}}
        },
        "y2": {"datum": 0},
        "color": {"field": "d", "type": "nominal", "scale": {"domain": ["up", "dn"], "range": ["#008000", "#ff0000"]}, "legend": null}
      }
    }
  ]
}
